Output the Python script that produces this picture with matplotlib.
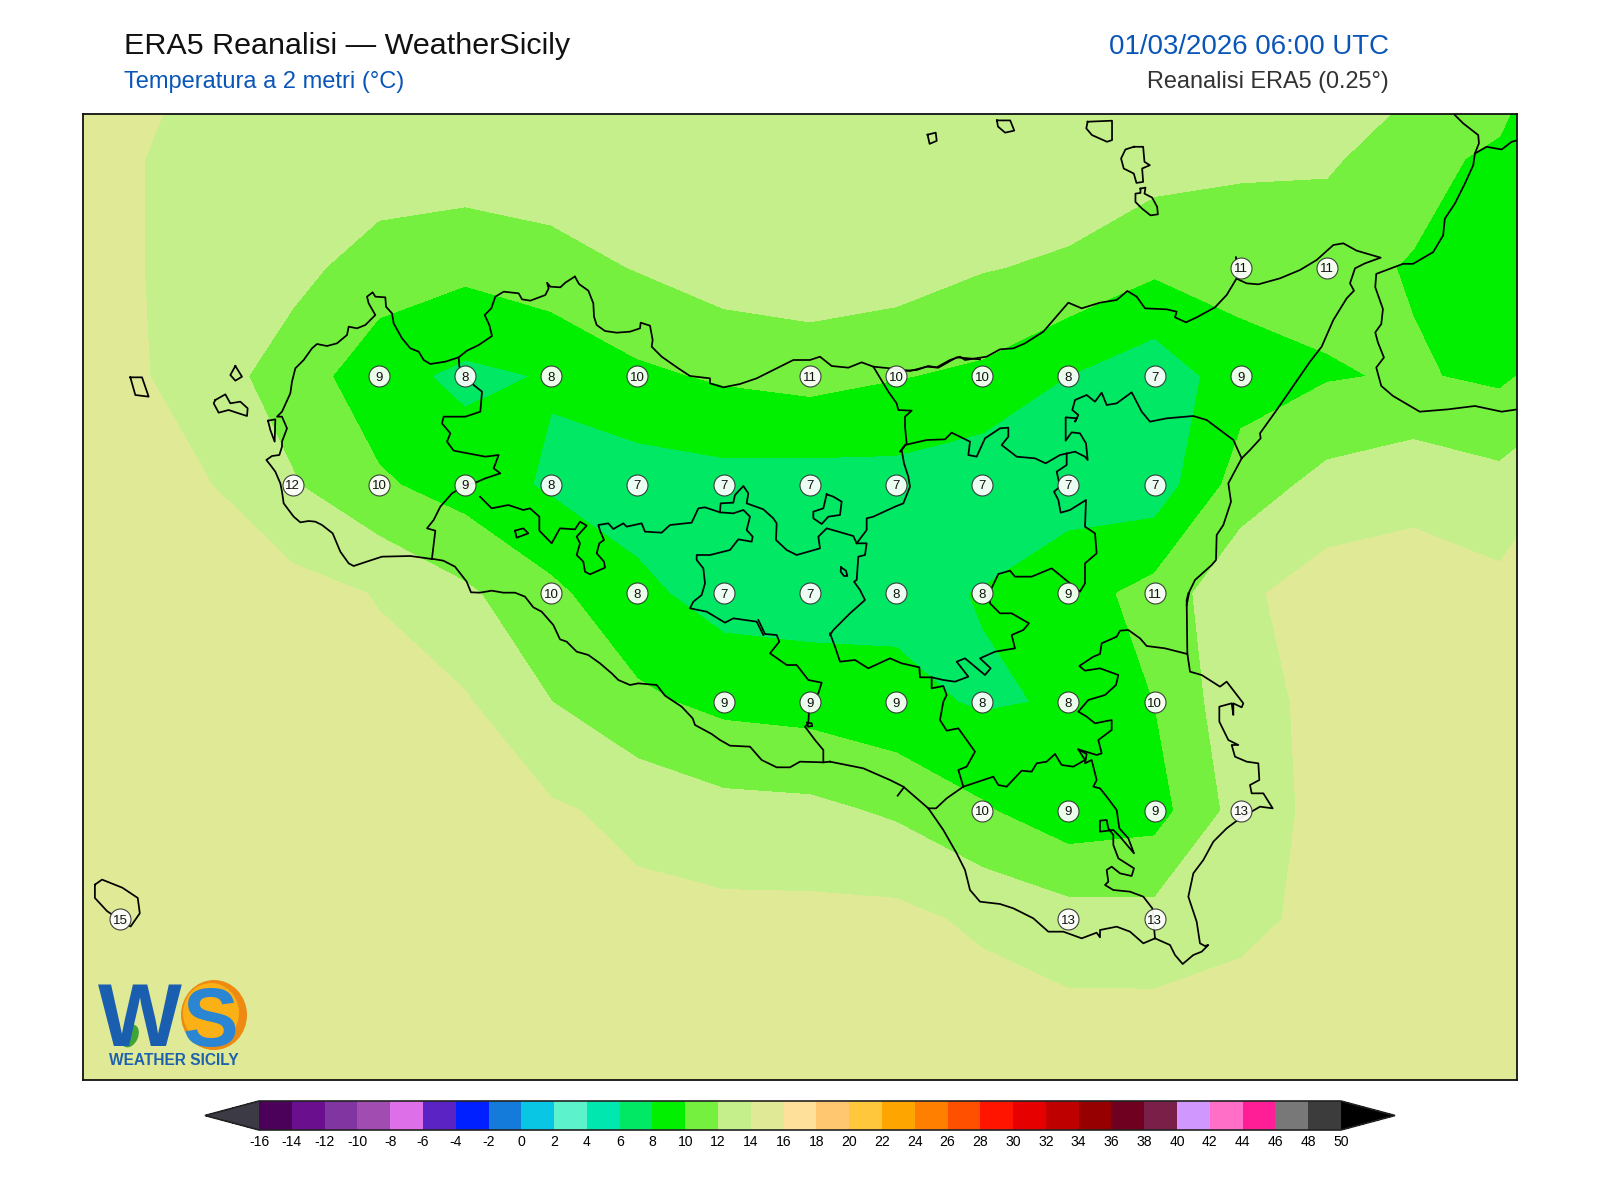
import numpy as np
import matplotlib
matplotlib.use("Agg")
import matplotlib.pyplot as plt
from matplotlib.colors import ListedColormap, BoundaryNorm
from matplotlib.patches import Ellipse

plt.rcParams['font.family'] = ['Liberation Sans', 'DejaVu Sans']

# ---------------------------------------------------------------- data
LONS = [11.75, 12.0, 12.25, 12.5, 12.75, 13.0, 13.25, 13.5, 13.75, 14.0, 14.25, 14.5,
        14.75, 15.0, 15.25, 15.5, 15.75, 16.0, 16.25]
LATS = [38.75, 38.5, 38.25, 38.0, 37.75, 37.5, 37.25, 37.0, 36.75, 36.5, 36.25]

T_R0 = [15.0, 14.75, 13.8, 13.5, 13.4, 13.4, 13.4, 13.5, 13.6, 13.6, 13.6, 13.5, 13.5, 13.4, 13.2, 13.3, 12.78, 11.9, 8.0]
T_R1 = [15.0, 14.2, 13.5, 13.3, 13.13, 13.18, 13.15, 13.5, 13.8, 13.8, 13.7, 13.5, 13.35, 12.86, 12.35, 12.3, 10.75, 9.5, 9.3]
T_R2 = [15.0, 14.27, 13.3, 12.54, 11.13, 10.5, 11.26, 12.1, 13.06, 13.34, 13.07, 12.12, 11.66, 10.37, 10.76, 10.6, 9.85, 9.3, 9.5]
T_R3 = [15.2, 14.6, 12.85, 11.1, 8.7, 7.55, 8.15, 9.6, 10.25, 10.66, 10.1, 9.6, 7.98, 6.71, 9.12, 9.84, 10.18, 9.64, 11.5]
T_R4 = [15.5, 15.0, 14.11, 12.15, 10.3, 9.1, 7.7, 6.98, 7.25, 7.12, 7.22, 6.55, 7.18, 6.8, 10.93, 12.64, 13.3, 12.64, 14.7]
T_R5 = [15.5, 15.3, 15.0, 14.7, 13.89, 12.35, 10.45, 8.49, 7.16, 7.03, 7.5, 8.09, 9.1, 10.73, 13.6, 14.97, 15.06, 14.55, 14.8]
T_R6 = [15.5, 15.3, 15.2, 15.0, 14.6, 14.2, 12.02, 10.41, 9.47, 9.17, 8.51, 7.8, 8.16, 10.02, 13.44, 14.42, 15.0, 15.0, 15.0]
T_R7 = [15.5, 15.4, 15.3, 15.2, 15.1, 15.0, 14.27, 13.47, 12.65, 12.49, 11.7, 10.24, 8.72, 9.19, 12.85, 14.65, 15.0, 15.0, 15.0]
T_R8 = [15.5, 15.2, 15.3, 15.3, 15.2, 15.2, 15.0, 14.5, 14.51, 14.52, 14.55, 13.6, 12.83, 12.7, 13.5, 14.55, 15.0, 15.0, 15.0]
T_R9 = [15.5, 15.4, 15.4, 15.3, 15.3, 15.2, 15.2, 15.1, 15.0, 15.0, 14.9, 15.1, 14.66, 14.73, 14.9, 15.2, 15.3, 15.3, 15.3]
T_R10 = [15.5, 15.5, 15.5, 15.4, 15.4, 15.3, 15.3, 15.2, 15.2, 15.2, 15.2, 15.2, 15.2, 15.2, 15.3, 15.4, 15.4, 15.4, 15.4]

# grid nodes that carry a value label: row index -> column indices
LABEL_NODES = {2: [14, 15], 3: [4, 5, 6, 7, 9, 10, 11, 12, 13, 14],
               4: [3, 4, 5, 6, 7, 8, 9, 10, 11, 12, 13],
               5: [6, 7, 8, 9, 10, 11, 12, 13], 6: [8, 9, 10, 11, 12, 13],
               7: [11, 12, 13, 14], 8: [1, 12, 13]}

LEVELS = list(range(-16, 52, 2))
TICK_TEXT = [str(v) for v in LEVELS]
BAND_COLORS = ['#4B0059', '#6A0F8E', '#8035A0', '#A04CB0', '#DD6FE8', '#5B22C4', '#0020FF', '#157BDB',
               '#09C6E5', '#5CF3CC', '#00E8B0', '#00E864', '#00F000', '#76F03E', '#C5EF8A', '#E0E996',
               '#FFE09B', '#FFC870', '#FFC83C', '#FFA500', '#FF8000', '#FF5000', '#FF1400', '#E60000',
               '#BE0000', '#960000', '#700020', '#7A2048', '#D097FF', '#FF6EC7', '#FF1E96', '#787878',
               '#3C3C3C']
UNDER_COLOR = '#3B3A45'
OVER_COLOR = '#000000'

TITLE_MAIN = 'ERA5 Reanalisi — WeatherSicily'
TITLE_SUB = 'Temperatura a 2 metri (°C)'
TITLE_DATE = '01/03/2026 06:00 UTC'
TITLE_SRC = 'Reanalisi ERA5 (0.25°)'

# digitised map outlines: every trace is (frame origin x, y, scale) + traced points
F4 = (82, 260, 3.0)
F5 = (480, 260, 3.0)
F6 = (900, 230, 3.0)
F7 = (1000, 110, 2.99)
F8 = (400, 530, 3.0)
F9 = (830, 580, 3.0)
FV = (0, 0, 0.98)

COAST_WEST = [(1050,897),(985,888),(900,890),(860,903),(815,918),(800,910),(775,875),(752,820),(720,795),(700,785),
    (680,783),(655,787),(635,770),(605,730),(600,695),(595,670),(580,635),(565,615),(553,600),(570,588),(592,585),
    (600,560),(600,545),(615,505),(600,470),(585,470),(600,455),(625,400),(630,365),(640,325),(665,300),(690,265),
    (705,252),(735,258),(765,250),(795,225),(800,200),(825,205),(850,195),(880,165),(860,130),(855,110),(872,97),
    (880,110),(910,112),(912,140),(930,160),(935,190),(960,235),(985,265),(1010,275),(1025,300),(1045,312),(1090,305),
    (1130,292),(1155,272),(1190,255),(1230,228),(1222,195),(1208,165),(1228,145),(1240,110),(1265,95),(1310,100),
    (1320,118),(1345,122),(1390,105),(1400,85),(1395,68),(1405,80),(1435,82),(1450,68),(1478,50)]
COAST_NORTH = [(285,50),(297,72),(325,92),(340,130),(342,170),(350,195),(375,213),(410,218),(450,215),(480,205),
    (482,188),(510,197),(518,240),(515,260),(545,290),(595,325),(630,348),(690,355),(690,370),(730,382),(780,372),
    (830,355),(890,325),(940,300),(990,300),(1020,290),(1055,318),(1105,323),(1145,307),(1180,320),(1230,325),
    (1290,333),(1340,320),(1375,323),(1430,292),(1500,298)]
COAST_NE = [(0,423),(50,420),(85,408),(110,412),(150,390),(180,380),(195,390),(260,380),(300,358),(340,355),(375,340),
    (430,305),(505,218),(545,235),(600,218),(650,210),(682,183),(710,200),(735,235),(800,238),(830,245),(825,262),
    (858,277),(890,262),(945,232),(980,195),(1010,145),(1015,115),(1008,82),(1015,115),(1010,145),(1018,150),(1040,160),
    (1075,163),(1140,145),(1200,120),(1250,90),(1300,45),(1330,40),(1370,62),(1442,83),(1395,100),(1365,115),(1350,160),
    (1362,182),(1340,205),(1300,270),(1265,350),(1230,395),(1130,540),(1080,610),(1082,625),(1050,660),(1025,685),
    (985,760),(993,815),(970,885),(950,915),(948,990),(935,1005),(885,1050),(868,1085),(860,1125)]
COAST_SE = [(1075,40),(1070,60),(1072,220),(1080,275),(1115,285),(1170,320),(1190,305),(1240,370),(1235,382),(1210,370),
    (1210,405),(1205,370),(1168,380),(1168,425),(1195,480),(1225,495),(1205,495),(1215,530),(1250,545),(1285,550),
    (1288,600),(1260,615),(1265,640),(1300,640),(1328,685),(1290,680),(1230,715),(1190,745),(1150,785),(1120,840),
    (1090,880),(1075,950),(1100,1025),(1110,1090),(1125,1098),(1135,1095),(1115,1115),(1090,1125),(1058,1152),
    (1035,1125),(1020,1095),(975,1075),(940,1090),(900,1055),(860,1040),(810,1050),(810,1072),(800,1058),(755,1075),
    (700,1055),(655,1055),(610,1015),(550,985),(510,972),(450,965),(420,930),(405,870),(380,820),(340,750),(295,685),
    (220,620),(180,600),(100,565),(0,545)]
COAST_SOUTH = [(1290,695),(1270,697),(1200,695),(1170,712),(1130,712),(1085,690),(1050,650),(990,647),(960,630),
    (935,612),(885,585),(878,565),(845,530),(795,497),(770,465),(715,460),(690,465),(655,450),(635,430),(600,400),
    (565,375),(530,365),(500,335),(480,328),(460,285),(425,245),(400,232),(375,200),(345,188),(310,188),(275,182),
    (240,188),(213,187),(200,155),(165,110),(130,92),(100,87),(95,87)]

PROV_TP = [(1130,292),(1132,320),(1150,345),(1175,375),(1200,395),(1195,455),(1150,470),(1085,470),(1080,490),(1105,520),
    (1095,545),(1115,572),(1210,590),(1250,585),(1235,625),(1255,640),(1210,655),(1180,668),(1150,675),(1110,700),
    (1075,740),(1055,780),(1035,805),(1060,812),(1050,895)]
PROV_PA_AG = [(0,710),(35,745),(85,735),(130,750),(150,745),(178,770),(178,812),(215,850),(240,805),(285,808),(300,785),
    (320,797),(290,830),(300,850),(290,885),(310,905),(315,935),(330,943),(375,923),(372,905),(350,880),(358,850),
    (372,840),(360,812),(355,795),(385,790),(400,807),(430,790),(440,800),(485,790),(495,815),(545,818),(570,795),
    (635,788),(655,745),(675,742),(720,757),(760,760),(790,750),(810,770),(800,810),(818,830),(815,845),(775,838),
    (750,870),(690,885),(650,885),(650,900),(670,925),(675,970),(665,1005),(640,1025),(630,1045),(680,1055),(735,1088),
    (760,1075),(830,1085),(850,1125)]
PROV_PA_EN = [(720,757),(722,730),(760,728),(765,705),(790,678),(805,700),(800,730),(850,748),(880,775),(890,790),(888,840),
    (920,870),(950,885),(1020,865),(1015,830),(1040,805),(1075,815),(1120,828),(1130,850),(1160,850),(1155,885),
    (1135,890),(1130,960),(1122,965),(1140,990),(1155,1020),(1110,1060),(1060,1110),(1050,1125)]
PROV_PA_ME = [(1130,850),(1160,810),(1160,775),(1180,770),(1245,740),(1270,730),(1290,680),(1285,650),(1272,610),(1265,570),
    (1280,550),(1275,500),(1275,470),(1295,452),(1255,450),(1250,430),(1225,395),(1180,320)]
ENCLAVE_A = [(1040,703),(1060,710),(1085,725),(1080,765),(1045,770),(1025,792),(1000,775),(1000,755),(1030,745),(1040,703)]
ENCLAVE_B = [(105,812),(130,805),(145,820),(110,833),(105,812)]
LAKE_A = [(1083,922),(1098,932),(1102,948),(1092,948),(1082,935),(1083,922)]

PROV_ME = [(0,665),(15,645),(80,630),(135,628),(155,608),(210,635),(205,675),(230,680),(255,625),(300,595),(325,593),
    (325,620),(305,645),(350,680),(405,685),(437,700),(480,675),(525,665),(555,680),(563,690),(558,640),(540,610),
    (515,607),(497,632),(497,562),(530,565),(525,575),(535,555),(517,540),(525,510),(560,495),(585,515),(605,488),
    (620,525),(650,520),(695,487),(725,545),(750,575),(800,565),(880,558),(920,570),(960,600),(1000,630),(1025,685)]
PROV_CT = [(500,670),(500,705),(470,725),(480,770),(462,785),(475,810),(482,848),(510,840),(558,810),(555,890),(585,910),
    (590,970),(555,1000),(555,1060),(540,1085),(510,1060),(455,1015),(395,1040),(345,1040),(330,1022),(295,1032),(270,1085)]
PROV_EN_S = [(480,35),(480,70),(510,100),(545,100),(597,130),(580,150),(545,165),(555,205),(495,215),(450,235),(482,265),
    (465,285),(405,235),(380,245),(415,290),(375,305),(340,300),(305,292),(270,292),(268,262),(215,250),(180,235),
    (115,265),(75,240),(30,245),(15,200),(0,160)]
PROV_AG_CL = [(1075,270),(1095,312),(1130,315),(1138,335),(1110,370),(1160,405),(1190,405),(1225,450),(1265,458),(1255,490),
    (1228,520),(1225,580),(1215,590),(1245,630),(1270,660),(1270,697)]
LOOP_CL = [(1222,578),(1235,580),(1237,588),(1224,590),(1222,578)]
PROV_CL_RG = [(305,292),(305,325),(340,318),(350,345),(340,365),(330,420),(350,452),(385,445),(435,515),(410,560),(385,570),
    (400,620),(350,655),(318,685),(295,685)]
PROV_RG_SR = [(400,620),(490,590),(505,615),(530,620),(575,572),(605,575),(620,550),(650,545),(675,522),(695,555),(730,560),
    (765,540),(745,508),(770,522),(765,550),(785,540),(800,600),(790,620),(810,625),(830,650),(860,690),(868,745),
    (895,775),(912,820),(870,770),(850,750),(810,755),(810,722),(830,720),(835,745),(850,765),(850,795),(865,835),
    (912,865),(905,888),(870,880),(845,860),(830,870),(835,905),(825,915),(850,930),(900,935),(940,950),(967,985),(975,1075)]
PROV_CT_SR = [(745,508),(800,525),(815,520),(805,480),(845,450),(845,420),(795,430),(770,410),(745,395),(775,360),(825,345),
    (858,315),(865,285),(810,265),(765,272),(748,258),(790,230),(810,222),(815,190),(860,170),(870,152),(895,150),
    (930,175),(950,198),(1005,205),(1072,222)]
TICK_RG = [(222,622),(203,647)]

CALABRIA_A = [(1360,15),(1385,40),(1430,75),(1432,100),(1420,130),(1415,165),(1390,220),(1360,280),(1330,325),(1325,375),
    (1295,425),(1235,460),(1205,460),(1125,490),(1122,530),(1145,595),(1140,640),(1122,665),(1130,695),(1148,740),
    (1125,770),(1140,825),(1175,855),(1255,902),(1340,895),(1420,885),(1500,902),(1548,895)]
CALABRIA_B = [(1420,130),(1455,110),(1500,118),(1530,95),(1550,90)]

ISL_LIPARI = [(400,110),(428,110),(432,155),(448,165),(425,175),(428,215),(408,218),(400,190),(370,175),(362,145),(375,118),(400,110)]
ISL_VULCANO = [(420,235),(435,232),(432,250),(455,262),(470,290),(472,312),(450,315),(425,295),(405,275),(405,250),(420,248),(420,235)]
ISL_SALINA = [(262,35),(335,32),(335,90),(320,95),(275,75),(258,55),(262,35)]
ISL_FILICUDI = [(977,118),(990,118),(994,128),(985,130),(978,124),(977,118)]
ISL_ALICUDI = [(909,132),(917,130),(918,138),(911,141),(909,132)]
ISL_MARETTIMO = [(145,352),(180,352),(200,410),(160,405),(145,352)]
ISL_LEVANZO = [(460,318),(480,350),(460,362),(445,345),(460,318)]
ISL_FAVIGNANA = [(400,420),(430,403),(445,430),(475,425),(497,445),(495,468),(470,460),(440,450),(410,458),(395,430),(400,420)]
ISL_MOZIA = [(558,482),(580,478),(578,545),(565,510),(558,482)]
ISL_PANTELLERIA = [(93,867),(100,862),(120,870),(135,880),(137,895),(128,908),(105,893),(93,880),(93,867)]

OUTLINES = [(F4, COAST_WEST), (F5, COAST_NORTH), (F6, COAST_NE), (F9, COAST_SE), (F8, COAST_SOUTH),
            (F4, PROV_TP), (F5, PROV_PA_AG), (F5, PROV_PA_EN), (F5, PROV_PA_ME), (F5, ENCLAVE_A), (F5, ENCLAVE_B), (F5, LAKE_A),
            (F6, PROV_ME), (F6, PROV_CT), (F9, PROV_EN_S), (F8, PROV_AG_CL), (F8, LOOP_CL), (F9, PROV_CL_RG),
            (F9, PROV_RG_SR), (F9, PROV_CT_SR), (F9, TICK_RG), (F7, CALABRIA_A), (F7, CALABRIA_B),
            (F7, ISL_LIPARI), (F7, ISL_VULCANO), (F7, ISL_SALINA), (FV, ISL_FILICUDI), (FV, ISL_ALICUDI),
            (F4, ISL_MARETTIMO), (F4, ISL_LEVANZO), (F4, ISL_FAVIGNANA), (F4, ISL_MOZIA), (FV, ISL_PANTELLERIA)]

# ---------------------------------------------------------------- figure
W, H = 1600, 1200
PX_LON = 86.2
PX_LAT = 108.65
fig = plt.figure(figsize=(W / 100, H / 100), dpi=100, facecolor='white')


def px_rect(x0, y0, x1, y1):
    return [x0 / W, 1 - y1 / H, (x1 - x0) / W, (y1 - y0) / H]


def to_geo(frame, pts):
    x0, y0, s = frame
    a = np.asarray(pts, float)
    px = x0 + a[:, 0] / s
    py = y0 + a[:, 1] / s
    return 12.5 + (px - 292.7) / PX_LON * 0.25, 38.0 - (py - 376.2) / PX_LAT * 0.25


ax = fig.add_axes(px_rect(82.7, 114, 1516.5, 1079.5))
temps = np.array([T_R0, T_R1, T_R2, T_R3, T_R4, T_R5, T_R6, T_R7, T_R8, T_R9, T_R10])
cmap = ListedColormap(BAND_COLORS)
cmap.set_under(UNDER_COLOR)
cmap.set_over(OVER_COLOR)
norm = BoundaryNorm(LEVELS, cmap.N)
cf = ax.contourf(LONS, LATS, temps, levels=LEVELS, cmap=cmap, norm=norm, extend='both')

for frame, pts in OUTLINES:
    gx, gy = to_geo(frame, pts)
    ax.plot(gx, gy, color='black', lw=1.25, solid_joinstyle='round', zorder=3)

for r, cols in LABEL_NODES.items():
    for c in cols:
        ax.scatter(LONS[c], LATS[r], s=228, facecolor='white', edgecolor='#333333', linewidth=0.8,
                   alpha=0.93, zorder=4)
        ax.text(LONS[c], LATS[r], f'{np.round(temps[r, c]):.0f}', ha='center', va='center_baseline',
                fontsize=9.5, color='#111111', zorder=5)

ax.set_xlim(12.5 + (82.7 - 292.7) / PX_LON * 0.25, 12.5 + (1516.5 - 292.7) / PX_LON * 0.25)
ax.set_ylim(38.0 - (1079.5 - 376.2) / PX_LAT * 0.25, 38.0 - (114 - 376.2) / PX_LAT * 0.25)
ax.set_xticks([])
ax.set_yticks([])
for s in ax.spines.values():
    s.set_linewidth(1.3)
    s.set_color('#111111')

# colour bar
cax = fig.add_axes(px_rect(205, 1101, 1395, 1130))
cb = fig.colorbar(cf, cax=cax, orientation='horizontal', extend='both', extendfrac=0.05,
                  ticks=LEVELS, spacing='uniform', drawedges=False)
cb.set_ticklabels(TICK_TEXT)
cb.ax.tick_params(length=0, labelsize=10.1, pad=3.5, labelcolor='black')
cb.ax.minorticks_off()
cb.outline.set_linewidth(1.2)
cb.outline.set_edgecolor('#222222')

# titles
BLUE = '#0A56B8'
fig.text(123.5 / W, 1 - 54 / H, TITLE_MAIN, fontsize=21.95, color='#111111', ha='left', va='baseline')
fig.text(123.5 / W, 1 - 88 / H, TITLE_SUB, fontsize=17.05, color=BLUE, ha='left', va='baseline')
fig.text(1389 / W, 1 - 54 / H, TITLE_DATE, fontsize=19.9, color=BLUE, ha='right', va='baseline')
fig.text(1389 / W, 1 - 88 / H, TITLE_SRC, fontsize=16.95, color='#333333', ha='right', va='baseline')

# logo
lg = fig.add_axes(px_rect(85, 968, 262, 1078), facecolor='none')
lg.set_xlim(85, 262)
lg.set_ylim(1078, 968)
lg.axis('off')
lg.set_aspect('equal')
lg.add_patch(Ellipse((214, 1015), 66, 70, facecolor='#EE8A12', edgecolor='none'))
lg.add_patch(Ellipse((211, 1013), 56, 60, facecolor='#FBB015', edgecolor='none'))
lg.text(140, 1046, 'W', fontsize=64, fontweight='bold', color='#1A5EB0', ha='center', va='baseline')
lg.text(210, 1046, 'S', fontsize=60, fontweight='bold', color='#2A86D2', ha='center', va='baseline')
lg.add_patch(Ellipse((130, 1036), 16, 24, angle=25, facecolor='#3EA536', edgecolor='none'))
lg.text(174, 1065, 'WEATHER SICILY', fontsize=11.2, fontweight='bold', color='#1E62AE', ha='center', va='baseline')

fig.savefig('out.png', dpi=100, facecolor='white')
